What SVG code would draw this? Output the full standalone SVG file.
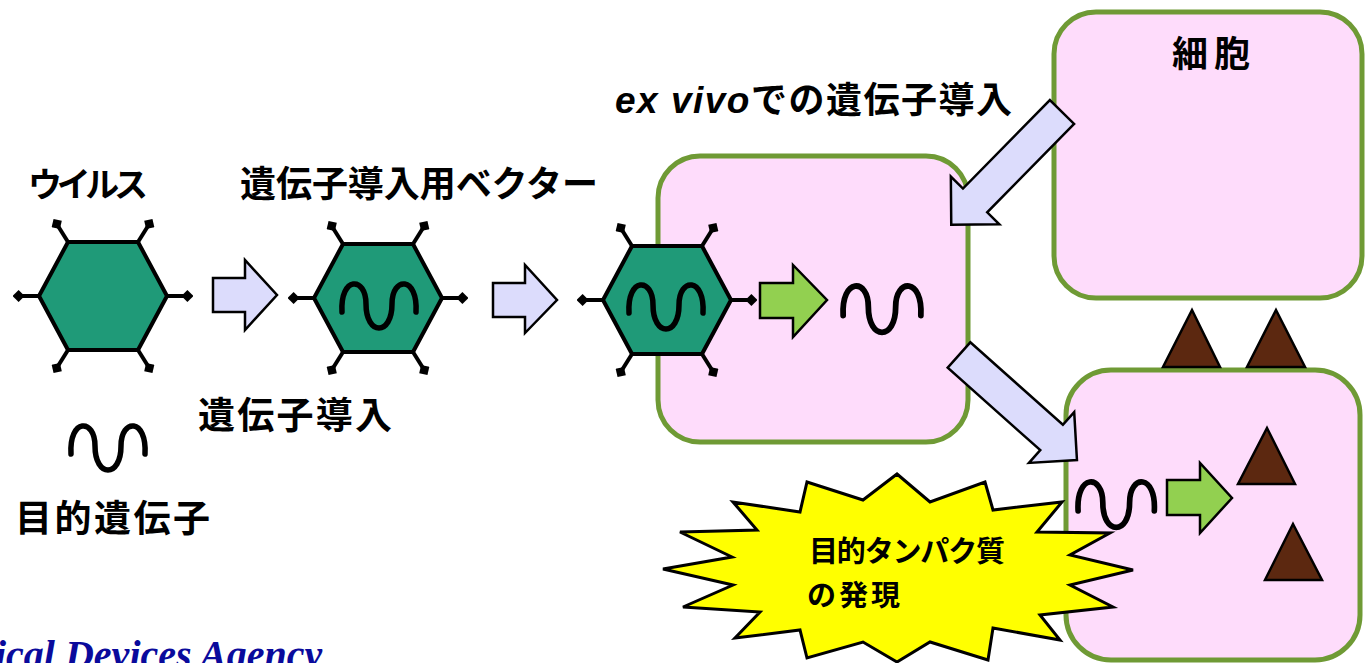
<svg xmlns="http://www.w3.org/2000/svg" xmlns:xlink="http://www.w3.org/1999/xlink" width="1370" height="663" viewBox="0 0 1370 663">
  <style>
    .jp { font-family: "Noto Sans CJK JP", "Noto Sans", sans-serif; font-weight: bold; fill: #000; }
    .lat { font-family: "Liberation Sans", Arial, sans-serif; font-style: italic; font-weight: bold; }
    .cell { fill: #fedcfb; stroke: #6f9a35; stroke-width: 5; }
    .hex { fill: #1f9a78; stroke: #000; stroke-width: 4; stroke-linejoin: round; }
    .spike { stroke: #000; stroke-width: 4; fill: none; marker-end: url(#knob); }
    .gene { fill: none; stroke: #000; stroke-width: 5.5; stroke-linecap: round; }
    .arr-l { fill: #dcdcfc; stroke: #000; stroke-width: 2.5; stroke-linejoin: miter; }
    .arr-g { fill: #92d050; stroke: #000; stroke-width: 2.5; stroke-linejoin: miter; }
    .prot { fill: #5c2810; stroke: #000; stroke-width: 2.5; stroke-linejoin: miter; }
    .burst { fill: #ffff00; stroke: #000; stroke-width: 3; stroke-linejoin: miter; }
  </style>
  <defs>
    <marker id="knob" viewBox="0 0 10 10" refX="3" refY="5" markerWidth="12" markerHeight="12" markerUnits="userSpaceOnUse" orient="auto">
      <path d="M0,5 L5,0 L10,5 L5,10 Z" fill="#000"/>
    </marker>
    <!-- viral capsid: hexagon with six surface spikes -->
    <g id="capsid">
      <line class="spike" x1="-35" y1="-54" x2="-45" y2="-70"/>
      <line class="spike" x1="35" y1="-54" x2="45" y2="-70"/>
      <line class="spike" x1="-64" y1="0" x2="-82" y2="0"/>
      <line class="spike" x1="64" y1="0" x2="82" y2="0"/>
      <line class="spike" x1="-35" y1="54" x2="-45" y2="70"/>
      <line class="spike" x1="35" y1="54" x2="45" y2="70"/>
      <polygon class="hex" points="-64,0 -35,-54 35,-54 64,0 35,54 -35,54"/>
    </g>
    <!-- gene symbol: wavy strand -->
    <path id="gene" class="gene" d="M3,30 C1,-6 27,-6 27,22 C27,54 53,54 53,22 C53,-6 79,-6 77,30"/>
    <!-- block arrow pointing along +x, tail at origin, length 158 -->
    <polygon id="diag" class="arr-l" points="0,-17 124,-17 124,-34 158,0 124,34 124,17 0,17"/>
  </defs>

  <!-- cells -->
  <g id="cell-source">
    <rect class="cell" x="1054" y="12" width="308" height="286" rx="42"/>
    <text class="jp" x="1172" y="67" font-size="36" textLength="78">細胞</text>
  </g>
  <g id="cell-target">
    <rect class="cell" x="1066" y="370" width="294" height="290" rx="45"/>
  </g>
  <g id="cell-ex-vivo">
    <rect class="cell" x="658" y="156" width="310" height="286" rx="42"/>
  </g>

  <!-- secreted proteins -->
  <g id="proteins">
    <polygon class="prot" points="1192,310 1220,367 1163,367"/>
    <polygon class="prot" points="1276,310 1305,367 1247,367"/>
    <polygon class="prot" points="1267,428 1295,484 1238,484"/>
    <polygon class="prot" points="1293,524 1322,580 1265,580"/>
  </g>

  <!-- virus and vectors -->
  <g id="virus">
    <use xlink:href="#capsid" transform="translate(103,296)"/>
    <text class="jp" x="28" y="197" font-size="34" textLength="120">ウイルス</text>
  </g>
  <g id="target-gene">
    <use xlink:href="#gene" transform="translate(68,424)"/>
    <text class="jp" x="15" y="532" font-size="37" textLength="195">目的遺伝子</text>
  </g>
  <g id="vector">
    <use xlink:href="#capsid" transform="translate(378,298)"/>
    <use xlink:href="#gene" transform="translate(339,282)"/>
    <text class="jp" x="240" y="197" font-size="36" textLength="358">遺伝子導入用ベクター</text>
  </g>
  <g id="vector-infecting">
    <use xlink:href="#capsid" transform="translate(667,300)"/>
    <use xlink:href="#gene" transform="translate(626,283)"/>
  </g>
  <g id="released-gene">
    <use xlink:href="#gene" transform="translate(840,284) scale(1.05)"/>
  </g>
  <g id="expressed-gene">
    <use xlink:href="#gene" transform="translate(1075,480) scale(1.03)"/>
  </g>

  <!-- connectors -->
  <g id="connectors">
    <polygon class="arr-l" points="213,278 245,278 245,260 277,295 245,330 245,312 213,312"/>
    <polygon class="arr-l" points="493,283 525,283 525,265 557,300 525,333 525,317 493,317"/>
    <polygon class="arr-g" points="760,283 793,283 793,265 827,300 793,337 793,318 760,318"/>
    <polygon class="arr-g" points="1167,480 1200,480 1200,463 1232,498 1200,533 1200,515 1167,515"/>
    <use xlink:href="#diag" transform="translate(1062,112) rotate(134.5)"/>
    <use xlink:href="#diag" transform="translate(959,355) rotate(41.7)"/>
  </g>

  <g id="label-transfer">
    <text class="jp" x="198" y="429" font-size="37" textLength="194">遺伝子導入</text>
  </g>
  <g id="label-ex-vivo">
    <text class="jp" x="615" y="113" font-size="36" textLength="397"><tspan class="lat" font-size="37">ex vivo</tspan>での遺伝子導入</text>
  </g>

  <!-- expression burst -->
  <g id="expression">
    <polygon class="burst" points="897,474 930,502 985,482 993,510 1062,502 1037,532 1110,533 1070,555 1133,570 1070,585 1113,607 1040,615 1060,640 993,628 988,660 930,642 897,662 863,642 807,658 800,630 735,638 760,612 683,607 733,585 663,569 732,557 680,532 757,530 733,502 800,512 807,482 863,500"/>
    <text class="jp" x="809" y="562" font-size="29" textLength="196">目的タンパク質</text>
    <text class="jp" x="807" y="606" font-size="29" textLength="93">の発現</text>
  </g>

  <text x="-5" y="668" font-family="'Liberation Serif', 'Times New Roman', serif" font-style="italic" font-weight="bold" font-size="40" fill="#0a0a9c">ical Devices Agency</text>
</svg>
